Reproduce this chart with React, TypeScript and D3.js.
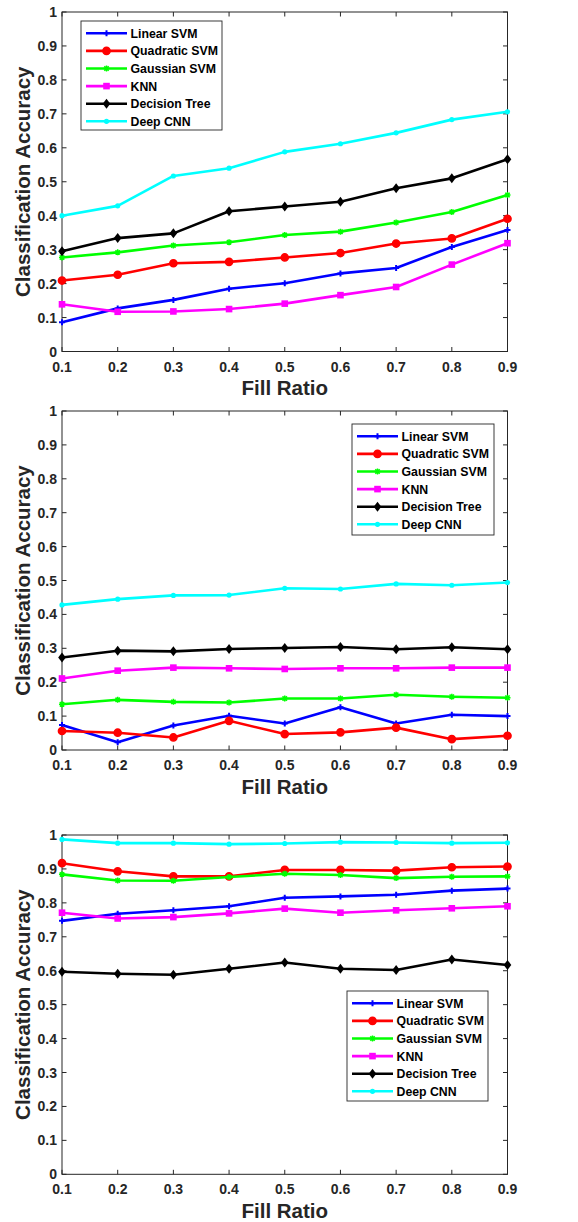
import React from "react";
import * as d3 from "d3";

const fillRatios = [0.1, 0.2, 0.3, 0.4, 0.5, 0.6, 0.7, 0.8, 0.9];
const yTicks = [0, 0.1, 0.2, 0.3, 0.4, 0.5, 0.6, 0.7, 0.8, 0.9, 1];

const methods = ["Linear SVM", "Quadratic SVM", "Gaussian SVM", "KNN", "Decision Tree", "Deep CNN"];
const colors = ["#0000ff", "#ff0000", "#00ff00", "#ff00ff", "#000000", "#00ffff"];
const markers = ["plus", "circle", "star", "square", "diamond", "dot"];

// panel 1
const p1Linear = [0.086, 0.127, 0.152, 0.185, 0.201, 0.23, 0.246, 0.308, 0.358];
const p1Quad = [0.209, 0.226, 0.26, 0.264, 0.277, 0.29, 0.318, 0.333, 0.391];
const p1Gauss = [0.277, 0.292, 0.312, 0.322, 0.343, 0.353, 0.38, 0.411, 0.461];
const p1Knn = [0.139, 0.117, 0.118, 0.125, 0.141, 0.166, 0.19, 0.256, 0.319];
const p1Tree = [0.295, 0.334, 0.348, 0.413, 0.427, 0.441, 0.481, 0.51, 0.566];
const p1Cnn = [0.4, 0.429, 0.517, 0.54, 0.588, 0.612, 0.644, 0.683, 0.706];

// panel 2
const p2Linear = [0.074, 0.023, 0.072, 0.101, 0.078, 0.126, 0.078, 0.104, 0.1];
const p2Quad = [0.056, 0.051, 0.037, 0.086, 0.047, 0.052, 0.066, 0.032, 0.042];
const p2Gauss = [0.135, 0.148, 0.142, 0.14, 0.152, 0.152, 0.163, 0.157, 0.154];
const p2Knn = [0.211, 0.234, 0.243, 0.241, 0.239, 0.241, 0.241, 0.243, 0.243];
const p2Tree = [0.273, 0.293, 0.291, 0.298, 0.301, 0.304, 0.297, 0.303, 0.297];
const p2Cnn = [0.428, 0.445, 0.456, 0.457, 0.477, 0.475, 0.49, 0.486, 0.494];

// panel 3
const p3Linear = [0.747, 0.768, 0.778, 0.79, 0.815, 0.819, 0.824, 0.836, 0.842];
const p3Quad = [0.917, 0.893, 0.878, 0.878, 0.897, 0.897, 0.895, 0.905, 0.907];
const p3Gauss = [0.884, 0.866, 0.865, 0.876, 0.886, 0.882, 0.873, 0.877, 0.878];
const p3Knn = [0.771, 0.754, 0.758, 0.769, 0.783, 0.771, 0.778, 0.784, 0.79];
const p3Tree = [0.597, 0.591, 0.588, 0.606, 0.624, 0.606, 0.602, 0.633, 0.617];
const p3Cnn = [0.987, 0.976, 0.976, 0.973, 0.975, 0.979, 0.978, 0.976, 0.977];

const panels = [
  { top: 12, bottom: 351.5, series: [p1Linear, p1Quad, p1Gauss, p1Knn, p1Tree, p1Cnn], legend: { x: 81, y: 21, w: 141, h: 109 } },
  { top: 411, bottom: 750, series: [p2Linear, p2Quad, p2Gauss, p2Knn, p2Tree, p2Cnn], legend: { x: 352, y: 424, w: 142, h: 111 } },
  { top: 835, bottom: 1174.3, series: [p3Linear, p3Quad, p3Gauss, p3Knn, p3Tree, p3Cnn], legend: { x: 347, y: 991, w: 141, h: 110 } },
];

const LEFT = 62;
const RIGHT = 507.5;
const axisColor = "#262626";
const font = "'Liberation Sans', Arial, Helvetica, sans-serif";

function Marker({ type, x, y, color }: { type: string; x: number; y: number; color: string }) {
  if (type === "plus")
    return <path d={`M${x - 3},${y}H${x + 3}M${x},${y - 3}V${y + 3}`} stroke={color} strokeWidth={2} />;
  if (type === "circle") return <circle cx={x} cy={y} r={3.6} fill={color} stroke={color} strokeWidth={1.5} />;
  if (type === "star")
    return (
      <path
        d={`M${x - 3},${y}H${x + 3}M${x},${y - 3}V${y + 3}M${x - 2.2},${y - 2.2}L${x + 2.2},${y + 2.2}M${x - 2.2},${y + 2.2}L${x + 2.2},${y - 2.2}`}
        stroke={color}
        strokeWidth={1.5}
      />
    );
  if (type === "square") return <rect x={x - 3.3} y={y - 3.3} width={6.6} height={6.6} fill={color} />;
  if (type === "diamond")
    return <path d={`M${x},${y - 5}L${x + 3.8},${y}L${x},${y + 5}L${x - 3.8},${y}Z`} fill={color} />;
  return <circle cx={x} cy={y} r={2.6} fill={color} />;
}

function Panel({ p }: { p: (typeof panels)[number] }) {
  const x = d3.scaleLinear().domain([0.1, 0.9]).range([LEFT, RIGHT]);
  const y = d3.scaleLinear().domain([0, 1]).range([p.bottom, p.top]);
  const line = d3
    .line<number>()
    .x((_, i) => x(fillRatios[i]))
    .y((d) => y(d));
  const L = p.legend;
  const rowH = 17.6;

  return (
    <g>
      {/* ticks */}
      {yTicks.map((t) => (
        <g key={"y" + t}>
          <line x1={LEFT} x2={LEFT + 4.5} y1={y(t)} y2={y(t)} stroke={axisColor} strokeWidth={1} />
          <line x1={RIGHT} x2={RIGHT - 4.5} y1={y(t)} y2={y(t)} stroke={axisColor} strokeWidth={1} />
          <text x={LEFT - 5} y={y(t) + 5} textAnchor="end" fontSize={14} fontWeight="bold" fill={axisColor}>
            {d3.format("~g")(t)}
          </text>
        </g>
      ))}
      {fillRatios.map((t) => (
        <g key={"x" + t}>
          <line x1={x(t)} x2={x(t)} y1={p.bottom} y2={p.bottom - 4.5} stroke={axisColor} strokeWidth={1} />
          <line x1={x(t)} x2={x(t)} y1={p.top} y2={p.top + 4.5} stroke={axisColor} strokeWidth={1} />
          <text x={x(t)} y={p.bottom + 20} textAnchor="middle" fontSize={14} fontWeight="bold" fill={axisColor}>
            {t}
          </text>
        </g>
      ))}
      <rect x={LEFT} y={p.top} width={RIGHT - LEFT} height={p.bottom - p.top} fill="none" stroke={axisColor} strokeWidth={1} />
      <text x={(LEFT + RIGHT) / 2} y={p.bottom + 43.5} textAnchor="middle" fontSize={20.5} fontWeight="bold" fill={axisColor}>
        Fill Ratio
      </text>
      <text
        transform={`translate(30,${(p.top + p.bottom) / 2}) rotate(-90)`}
        textAnchor="middle"
        fontSize={20.5}
        fontWeight="bold"
        fill={axisColor}
      >
        Classification Accuracy
      </text>

      {/* series */}
      {p.series.map((s, si) => (
        <g key={si}>
          <path d={line(s) || ""} fill="none" stroke={colors[si]} strokeWidth={2.6} strokeLinejoin="round" />
          {s.map((v, i) => (
            <Marker key={i} type={markers[si]} x={x(fillRatios[i])} y={y(v)} color={colors[si]} />
          ))}
        </g>
      ))}

      {/* legend */}
      <rect x={L.x} y={L.y} width={L.w} height={L.h} fill="#fff" stroke={axisColor} strokeWidth={0.9} />
      {methods.map((m, i) => {
        const cy = L.y + 12.3 + i * rowH;
        return (
          <g key={m}>
            <line x1={L.x + 5} x2={L.x + 46} y1={cy} y2={cy} stroke={colors[i]} strokeWidth={2.6} />
            <Marker type={markers[i]} x={L.x + 25.5} y={cy} color={colors[i]} />
            <text x={L.x + 49.5} y={cy + 4.5} fontSize={12.3} fontWeight="bold" fill="#000">
              {m}
            </text>
          </g>
        );
      })}
    </g>
  );
}

export default function App() {
  return (
    <svg
      width={578}
      height={1222}
      style={{ position: "absolute", left: 0, top: 0, background: "#fff", fontFamily: font }}
    >
      <rect width={578} height={1222} fill="#fff" />
      {panels.map((p, i) => (
        <Panel key={i} p={p} />
      ))}
    </svg>
  );
}
